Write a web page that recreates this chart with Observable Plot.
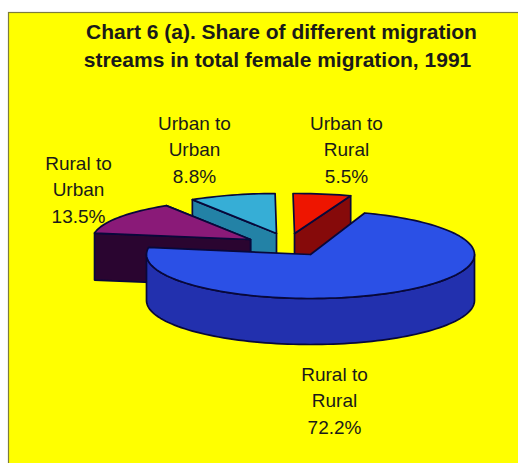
<!DOCTYPE html>
<html>
<head>
<meta charset="utf-8">
<script src="https://cdn.jsdelivr.net/npm/d3@7"></script>
<script src="https://cdn.jsdelivr.net/npm/@observablehq/plot@0.6"></script>
<style>
html,body{margin:0;padding:0;background:#fff;}
svg{display:block;}
</style>
</head>
<body>
<div id="chart"></div>
<script>
const titleLines = ["Chart 6 (a). Share of different migration", "streams in total female migration, 1991"];
const categories = ["Rural to Rural", "Rural to Urban", "Urban to Urban", "Urban to Rural"];
const shares = [72.2, 13.5, 8.8, 5.5];
const labelTexts = ["Rural to\nRural\n72.2%", "Rural to\nUrban\n13.5%", "Urban to\nUrban\n8.8%", "Urban to\nRural\n5.5%"];

// drawing set-up (picture space)
const W = 518, H = 463;
const firstAngle = 19.3;
const centres = [[310, 254], [250, 239], [276, 233], [294, 233]];
const radiusX = [164, 158, 158, 170];
const radiusY = [44, 40, 40, 40];
const depth = [46, 47, 42, 42];
const topColors = ["#2b50e6", "#8a1a78", "#36aed6", "#ee1500"];
const wallColors = ["#2230ae", "#2a0530", "#2382a6", "#860a0a"];
const outline = "#08083a";
const labelX = [334, 78, 194, 346];
const labelY = [374, 163, 123, 123];

let acc = firstAngle;
const spans = shares.map(v => { const a = acc; acc += v * 3.6; return [a, acc]; });

function rim(i, a) {
  const t = a * Math.PI / 180;
  return {x: centres[i][0] + radiusX[i] * Math.sin(t), y: centres[i][1] - radiusY[i] * Math.cos(t)};
}
function arc(i, a0, a1) {
  const n = Math.max(2, Math.ceil(Math.abs(a1 - a0) / 2));
  return d3.range(n + 1).map(k => rim(i, a0 + (a1 - a0) * k / n));
}
const apex = i => ({x: centres[i][0], y: centres[i][1]});
const drop = (p, d) => ({x: p.x, y: p.y + d});
const closed = pts => [...pts, pts[0]];
const face = (pts, fill) => Plot.line(closed(pts), {x: "x", y: "y", fill, stroke: outline, strokeWidth: 1.7, strokeLinejoin: "round", curve: "linear"});

function wedge(i) {
  return face([apex(i), ...arc(i, spans[i][0], spans[i][1])], topColors[i]);
}
function radialWall(i, a) {
  const c = apex(i), r = rim(i, a);
  return face([c, r, drop(r, depth[i]), drop(c, depth[i])], wallColors[i]);
}
function blueWall() {
  const top = arc(0, 90, 270);
  return face([...top, ...top.slice().reverse().map(p => drop(p, depth[0]))], wallColors[0]);
}

const labelRows = labelTexts.flatMap((t, i) => t.split("\n").map((s, k) => ({s, x: labelX[i], y: labelY[i] + k * 26.7})));
const titleRows = titleLines.map((s, k) => ({s, x: k ? 277 : 281, y: 32 + k * 28}));

const chart = Plot.plot({
  width: W, height: H, margin: 0,
  x: {axis: null, domain: [0, W], range: [0, W]},
  y: {axis: null, domain: [0, H], range: [0, H]},
  style: {background: "transparent"},
  marks: [
    Plot.rect([{x1: 8.5, x2: W + 4, y1: 12.5, y2: H + 4}], {x1: "x1", x2: "x2", y1: "y1", y2: "y2", fill: "#ffff00", stroke: "#7d7d3c", strokeWidth: 1.2}),
    // cyan slice
    radialWall(2, spans[2][0]),
    wedge(2),
    // red slice
    radialWall(3, spans[3][1]),
    wedge(3),
    // purple slice
    radialWall(1, spans[1][1]),
    radialWall(1, spans[1][0]),
    wedge(1),
    // blue slice
    blueWall(),
    wedge(0),
    Plot.text(labelRows, {x: "x", y: "y", text: "s", fontFamily: "Liberation Sans", fontSize: 19, fill: "#1a1a1a", textAnchor: "middle", lineAnchor: "middle"}),
    Plot.text(titleRows, {x: "x", y: "y", text: "s", fontFamily: "Liberation Sans", fontSize: 21, fontWeight: "bold", fill: "#1a1a1a", textAnchor: "middle", lineAnchor: "middle"})
  ]
});
document.getElementById("chart").append(chart);
</script>
</body>
</html>
